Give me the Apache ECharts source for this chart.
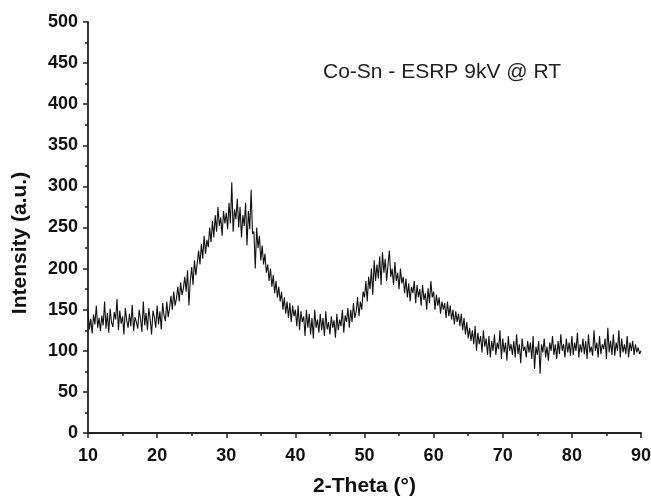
<!DOCTYPE html>
<html>
<head>
<meta charset="utf-8">
<script src="https://cdn.jsdelivr.net/npm/echarts@6/dist/echarts.min.js"></script>
<style>
  html, body { margin: 0; padding: 0; background: #fff; }
  #chart { width: 651px; height: 498px; }
</style>
</head>
<body>
<div id="chart"></div>
<script>
// 2-theta grid of the scan (degrees)
const thetaStart = 10;
const thetaStep = 0.2;

// intensity, one row per 2 degrees
const intensity = [
  148,126,139,121,144,132,155,128,140,124,  // 10
  143,131,160,127,146,122,151,135,129,147,  // 12
  138,163,125,149,133,142,120,152,137,128,  // 14
  145,130,156,124,141,135,127,150,139,123,  // 16
  160,131,146,125,152,138,120,149,141,128,  // 18
  155,132,148,126,158,143,136,160,141,152,  // 20
  167,150,172,155,164,178,160,183,168,176,  // 22
  190,172,198,155,185,202,180,210,192,206,  // 24
  222,205,230,212,240,218,235,226,250,232,  // 26
  258,238,265,245,275,252,262,240,270,255,  // 28
  268,248,280,255,305,245,272,260,285,250,  // 30
  275,238,265,252,280,228,270,248,296,242,  // 32
  245,200,250,225,240,210,228,205,218,195,  // 34
  205,185,200,178,192,170,185,165,178,160,  // 36
  172,150,165,145,160,140,158,135,155,142,  // 38
  150,130,155,125,148,135,142,118,150,128,  // 40
  145,120,140,115,150,128,138,122,145,125,  // 42
  140,118,148,126,135,120,142,128,137,116,  // 44
  145,125,138,130,150,122,143,135,152,128,  // 46
  150,135,158,140,148,165,142,160,150,172,  // 48
  165,185,160,190,175,200,168,210,185,205,  // 50
  188,215,180,220,195,212,185,205,222,190,  // 52
  200,180,208,185,195,175,200,182,190,170,  // 54
  188,165,182,160,178,170,185,158,180,165,  // 56
  175,155,180,162,170,150,176,158,185,165,  // 58
  172,150,168,155,165,145,160,150,158,140,  // 60
  160,142,155,138,150,132,148,135,145,130,  // 62
  145,125,140,120,135,115,128,112,125,108,  // 64
  130,100,122,108,118,98,125,105,115,95,    // 66
  118,92,112,100,120,95,110,102,125,90,     // 68
  115,98,110,88,118,100,108,95,112,92,      // 70
  120,96,108,85,115,100,105,92,112,98,      // 72
  110,90,118,78,105,95,112,72,108,98,       // 74
  115,92,105,88,110,100,118,95,108,90,      // 76
  112,96,120,100,108,92,115,98,110,94,      // 78
  118,95,110,100,122,92,108,98,115,96,      // 80
  112,90,120,98,105,94,125,100,110,92,      // 82
  118,96,108,102,115,90,128,98,112,95,      // 84
  120,94,110,100,125,92,115,98,108,96,      // 86
  118,92,110,100,112,95,108,98,104,96,      // 88
  100                                       // 90
];

const xTicks = { min: 10, max: 90, interval: 10 };
const yTicks = { min: 0, max: 500, interval: 50 };

const seriesData = intensity.map((v, i) => [+(thetaStart + i * thetaStep).toFixed(2), v]);

const chart = echarts.init(document.getElementById('chart'));
const fontFamily = 'Arial, "Liberation Sans", sans-serif';
const tickFont = { fontFamily, fontWeight: 'bold', fontSize: 18, color: '#111' };
const axisColor = '#222';

chart.setOption({
  animation: false,
  backgroundColor: '#fff',
  grid: { left: 88, right: 10, top: 22, bottom: 65, outerBoundsMode: 'none' },
  xAxis: {
    type: 'value',
    min: xTicks.min,
    max: xTicks.max,
    interval: xTicks.interval,
    name: '2-Theta (°)',
    nameLocation: 'middle',
    nameGap: 43,
    nameTextStyle: { fontFamily, fontWeight: 'bold', fontSize: 21, color: '#111' },
    axisLine: { lineStyle: { color: axisColor, width: 1.8 } },
    axisTick: { length: 5, lineStyle: { color: axisColor, width: 1.5 } },
    minorTick: { show: true, splitNumber: 2, length: 3, lineStyle: { color: axisColor, width: 1.5 } },
    axisLabel: { ...tickFont, margin: 14 },
    splitLine: { show: false }
  },
  yAxis: {
    type: 'value',
    min: yTicks.min,
    max: yTicks.max,
    interval: yTicks.interval,
    axisLine: { show: true, lineStyle: { color: axisColor, width: 1.8 } },
    axisTick: { show: true, length: 5, lineStyle: { color: axisColor, width: 1.5 } },
    minorTick: { show: true, splitNumber: 2, length: 3, lineStyle: { color: axisColor, width: 1.5 } },
    axisLabel: { ...tickFont, margin: 10 },
    splitLine: { show: false }
  },
  graphic: [{
    // y axis title sits a little below the axis middle in the original
    type: 'text',
    x: 20,
    y: 243,
    rotation: Math.PI / 2,
    style: {
      text: 'Intensity (a.u.)',
      font: 'bold 21px ' + fontFamily,
      fill: '#111',
      align: 'center',
      verticalAlign: 'middle'
    }
  }, {
    type: 'text',
    left: 323,
    top: 62,
    style: {
      text: 'Co-Sn - ESRP 9kV @ RT',
      font: '21px ' + fontFamily,
      fill: '#222'
    }
  }],
  series: [{
    type: 'line',
    data: seriesData,
    showSymbol: false,
    lineStyle: { color: '#111', width: 1.1 }
  }]
});
</script>
</body>
</html>
